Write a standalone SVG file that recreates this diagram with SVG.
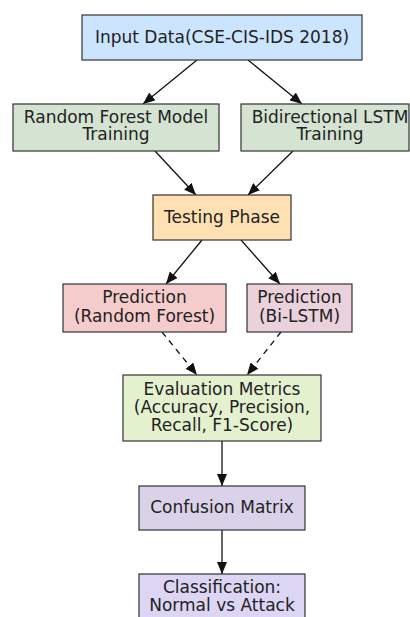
<svg xmlns="http://www.w3.org/2000/svg" width="410" height="617" viewBox="0 0 410 617">
<defs>
<marker id="ah" viewBox="0 0 12 10" refX="12" refY="5" markerWidth="12" markerHeight="10" markerUnits="userSpaceOnUse" orient="auto">
<path d="M0,0 L12,5 L0,10 z" fill="#111"/>
</marker>
<style>
.box{stroke:#333;stroke-width:1.2}
.t{font-family:"DejaVu Sans",sans-serif;font-size:17px;fill:#222;text-anchor:middle}
.c{stroke:#111;stroke-width:1.3;fill:none;marker-end:url(#ah)}
.d{stroke-dasharray:6,5}
</style>
</defs>
<rect width="410" height="617" fill="#fff"/>
<g id="connectors">
<line class="c" x1="197" y1="60" x2="143" y2="104"/>
<line class="c" x1="248" y1="60" x2="302" y2="104"/>
<line class="c" x1="155" y1="151" x2="196" y2="195"/>
<line class="c" x1="293" y1="151" x2="248" y2="195"/>
<line class="c" x1="202" y1="240" x2="166" y2="284"/>
<line class="c" x1="241" y1="240" x2="280" y2="284"/>
<line class="c d" x1="162" y1="332" x2="197" y2="375"/>
<line class="c d" x1="281" y1="332" x2="247" y2="375"/>
<line class="c" x1="222" y1="441" x2="222" y2="486"/>
<line class="c" x1="222" y1="530" x2="222" y2="574"/>
</g>
<g id="input">
<rect class="box" x="82" y="15" width="280" height="45" fill="#cce5ff"/>
<text class="t" x="222" y="43">Input Data(CSE-CIS-IDS 2018)</text>
</g>
<g id="rf_train">
<rect class="box" x="13" y="104" width="206" height="47" fill="#d5e3d2"/>
<text class="t" x="116" y="123">Random Forest Model</text>
<text class="t" x="116" y="140">Training</text>
</g>
<g id="lstm_train">
<rect class="box" x="241" y="104" width="168" height="47" fill="#d5e3d2"/>
<text class="t" x="330" y="123">Bidirectional LSTM</text>
<text class="t" x="330" y="140">Training</text>
</g>
<g id="testing">
<rect class="box" x="153" y="195" width="138" height="45" fill="#ffe0b2"/>
<text class="t" x="222" y="222.5">Testing Phase</text>
</g>
<g id="pred_rf">
<rect class="box" x="63" y="284" width="163" height="48" fill="#f4cccc"/>
<text class="t" x="144.5" y="303">Prediction</text>
<text class="t" x="144.5" y="321.5">(Random Forest)</text>
</g>
<g id="pred_lstm">
<rect class="box" x="247" y="284" width="105" height="48" fill="#ead1dc"/>
<text class="t" x="299.5" y="303">Prediction</text>
<text class="t" x="299.5" y="321.5">(Bi-LSTM)</text>
</g>
<g id="evaluation">
<rect class="box" x="123" y="375" width="198" height="66" fill="#e4f1cf"/>
<text class="t" x="222" y="395">Evaluation Metrics</text>
<text class="t" x="222" y="413">(Accuracy, Precision,</text>
<text class="t" x="222" y="431">Recall, F1-Score)</text>
</g>
<g id="confusion">
<rect class="box" x="139" y="486" width="166" height="44" fill="#dad2e9"/>
<text class="t" x="222" y="512.5">Confusion Matrix</text>
</g>
<g id="classification">
<rect class="box" x="139" y="574" width="166" height="50" fill="#dcd5f3"/>
<text class="t" x="222" y="593">Classification:</text>
<text class="t" x="222" y="611">Normal vs Attack</text>
</g>
</svg>
